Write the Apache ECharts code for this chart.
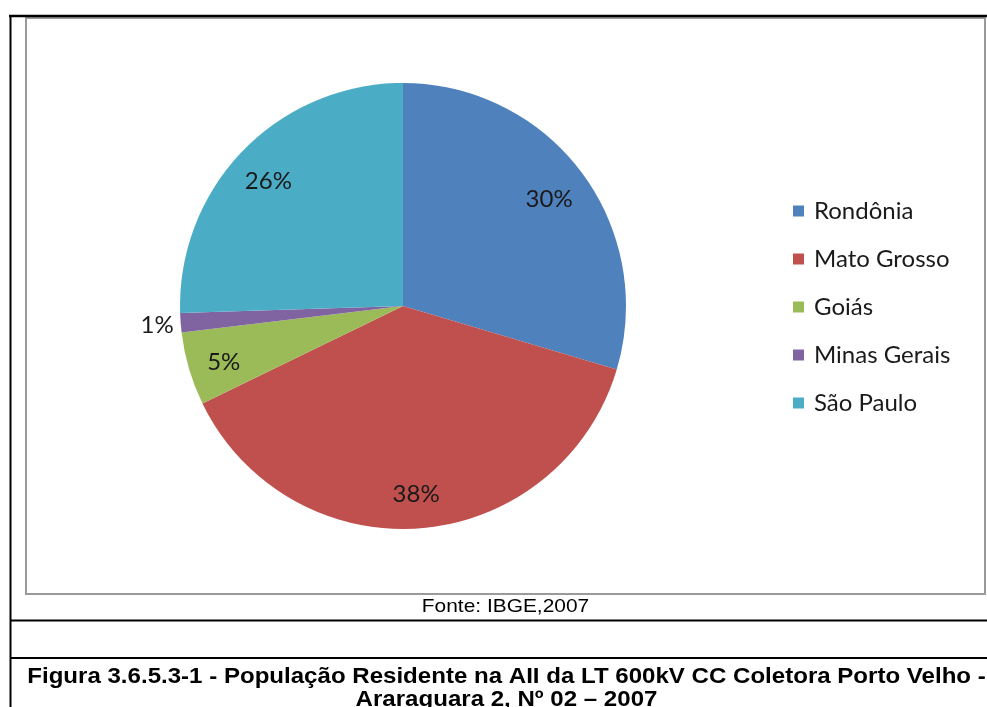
<!DOCTYPE html>
<html>
<head>
<meta charset="utf-8">
<script src="https://cdn.jsdelivr.net/npm/echarts@6/dist/echarts.min.js"></script>
<style>
html,body{margin:0;padding:0;background:#fff;}
#c{width:987px;height:707px;}
</style>
</head>
<body>
<div id="c"></div>
<script>
const categories = ['Rondônia', 'Mato Grosso', 'Goiás', 'Minas Gerais', 'São Paulo'];
const values = [29.6, 38.2, 5.3, 1.4, 25.5];
const colors = ['#4F81BD', '#C0504D', '#9BBB59', '#8064A2', '#4BACC6'];
const sourceText = 'Fonte: IBGE,2007';
const captionLines = ['Figura 3.6.5.3-1 - População Residente na AII da LT 600kV CC Coletora Porto Velho -', 'Araraguara 2, Nº 02 – 2007'];

const chart = echarts.init(document.getElementById('c'), null, {renderer: 'canvas'});
const labelFont = 'Lato, "Open Sans", sans-serif';
const pieData = categories.map((n, i) => ({name: n, value: values[i], itemStyle: {color: colors[i]}}));
const labelData = categories.map((n, i) => {
  const d = {name: n, value: values[i]};
  if (values[i] < 3) {
    d.label = {position: 'outside', offset: [0, 2]};
    d.labelLine = {show: false, length: 2, length2: 0};
  }
  return d;
});
const center = [403, 306];
const R = 223;
chart.setOption({
  animation: false,
  backgroundColor: '#fff',
  legend: {
    orient: 'vertical',
    left: 788,
    top: 194,
    icon: 'rect',
    itemWidth: 11,
    itemHeight: 11,
    itemGap: 24,
    data: categories,
    textStyle: {fontFamily: labelFont, fontSize: 24, color: '#1a1a1a', lineHeight: 24, padding: [0,0,0,5]}
  },
  graphic: [
    {type: 'rect', shape: {x: 26, y: 18, width: 959, height: 576}, style: {fill: 'none', stroke: '#9a9a9a', lineWidth: 2}, z: 0},
    {type: 'line', shape: {x1: 9, y1: 16, x2: 987, y2: 16}, style: {stroke: '#000', lineWidth: 2.5}},
    {type: 'line', shape: {x1: 10.5, y1: 15, x2: 10.5, y2: 707}, style: {stroke: '#000', lineWidth: 2}},
    {type: 'line', shape: {x1: 10, y1: 620.5, x2: 987, y2: 620.5}, style: {stroke: '#000', lineWidth: 2}},
    {type: 'line', shape: {x1: 10, y1: 658, x2: 987, y2: 658}, style: {stroke: '#000', lineWidth: 2}},
    {type: 'text', x: 505.5, y: 607, scaleX: 1.1, style: {text: sourceText, font: '19px "Liberation Sans", Arial, sans-serif', fill: '#000', textAlign: 'center', textVerticalAlign: 'middle'}},
    {type: 'text', x: 506.5, y: 677, scaleX: 1.094, style: {text: captionLines[0], font: 'bold 22px "Liberation Sans", Arial, sans-serif', fill: '#000', textAlign: 'center', textVerticalAlign: 'middle'}},
    {type: 'text', x: 506.5, y: 700, scaleX: 1.094, style: {text: captionLines[1], font: 'bold 22px "Liberation Sans", Arial, sans-serif', fill: '#000', textAlign: 'center', textVerticalAlign: 'middle'}}
  ],
  series: [
    {
      type: 'pie',
      center: center,
      radius: [0, R],
      startAngle: 90,
      clockwise: true,
      silent: true,
      label: {show: false},
      labelLine: {show: false},
      itemStyle: {borderWidth: 0},
      data: pieData
    },
    {
      type: 'pie',
      center: center,
      radius: [R * 0.63, R],
      startAngle: 90,
      clockwise: true,
      silent: true,
      itemStyle: {color: 'rgba(0,0,0,0)', borderWidth: 0},
      label: {
        show: true,
        position: 'inside',
        fontFamily: labelFont,
        fontSize: 24,
        color: '#1a1a1a',
        offset: [-2, 4],
        formatter: p => Math.round(p.percent) + '%'
      },
      labelLine: {show: false},
      data: labelData
    }
  ]
});
</script>
</body>
</html>
